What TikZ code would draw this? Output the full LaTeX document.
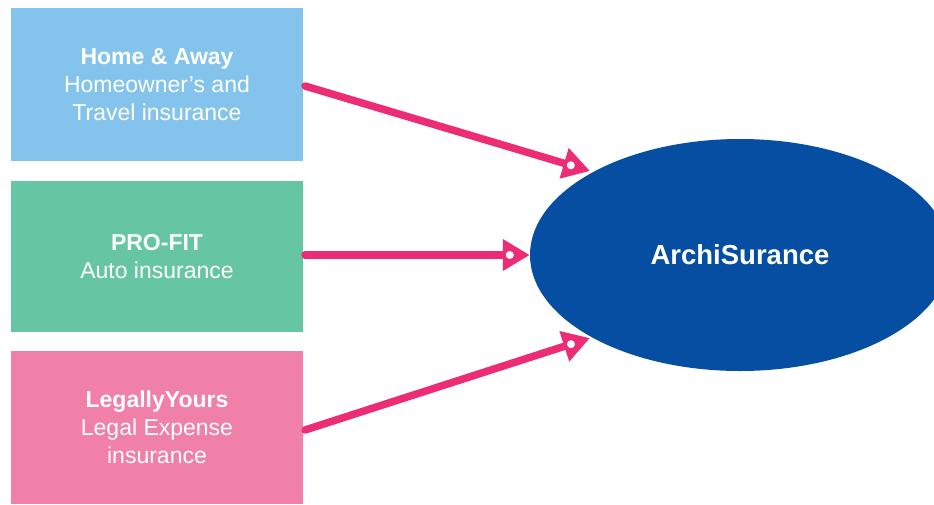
\documentclass[tikz,border=0pt]{standalone}
\usepackage{fontspec}
\setmainfont{Liberation Sans}
\usetikzlibrary{arrows.meta,shapes.geometric,calc}
\definecolor{boxblue}{HTML}{84C4EC}
\definecolor{boxgreen}{HTML}{66C6A4}
\definecolor{boxpink}{HTML}{F180A8}
\definecolor{arrowpink}{HTML}{EC2C74}
\definecolor{ellblue}{HTML}{064EA2}
\begin{document}
\begin{tikzpicture}[x=1pt,y=-1pt,
  prodbox/.style={rectangle, minimum width=292pt, minimum height=153pt, inner sep=0pt,
    text=white, align=center, font=\fontsize{23}{28}\selectfont},
  flow/.style={draw=arrowpink, line width=7.5pt, line cap=round,
    -{Triangle[length=27pt,width=30pt]}},
  hole/.style={circle, fill=white, inner sep=0pt, minimum size=8pt}]
\useasboundingbox (0,0) rectangle (934,504);
\clip (0,0) rectangle (934,504);
\node[prodbox, fill=boxblue] (home) at (157,84.5) {\textbf{Home \& Away}\\Homeowner’s and\\Travel insurance};
\node[prodbox, fill=boxgreen, minimum height=151pt] (pro) at (157,256.5) {\textbf{PRO-FIT}\\Auto insurance};
\node[prodbox, fill=boxpink] (legal) at (157,427.5) {\textbf{LegallyYours}\\Legal Expense\\insurance};
\node[ellipse, fill=ellblue, minimum width=420pt, minimum height=232pt, inner sep=0pt,
  text=white, font=\bfseries\fontsize{27.5}{30}\selectfont] (archi) at (740,255) {ArchiSurance};
\coordinate (s1) at (305,86);
\coordinate (s2) at (305,255);
\coordinate (s3) at (305,430);
\coordinate (e1) at (590,171);
\coordinate (e3) at (590,338);
\draw[flow] (s1) -- (e1);
\draw[flow] (s2) -- (archi.west);
\draw[flow] (s3) -- (e3);
\node[hole] (h1) at ($(e1)!20pt!(s1)$) {};
\node[hole] (h2) at ($(archi.west)!20pt!(s2)$) {};
\node[hole] (h3) at ($(e3)!20pt!(s3)$) {};
\end{tikzpicture}
\end{document}
